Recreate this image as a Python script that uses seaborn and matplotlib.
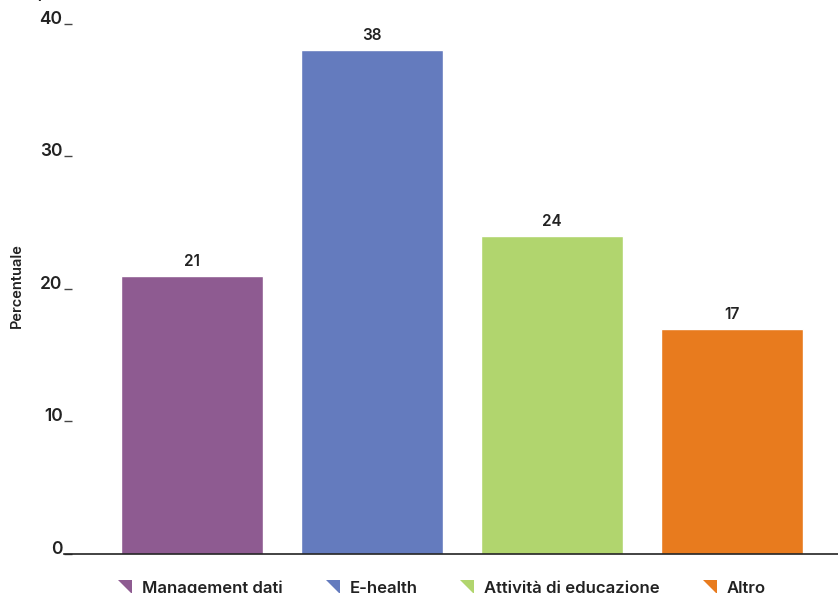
import matplotlib
matplotlib.use("Agg")
import matplotlib.pyplot as plt
from matplotlib.path import Path
from matplotlib.lines import Line2D
import seaborn as sns
import pandas as pd

categories = ["Management dati", "E-health", "Attività di educazione", "Altro"]
values = [21, 38, 24, 17]
colors = ["#8E5B91", "#647BBE", "#B1D56E", "#E87B1E"]
yticks = [0, 10, 20, 30, 40]

sns.set_theme(style="white")
plt.rcParams["font.family"] = ["Inter", "DejaVu Sans"]
plt.rcParams["font.weight"] = "semibold"

df = pd.DataFrame({"categoria": categories, "valore": values})

fig = plt.figure(figsize=(8.38, 5.93), dpi=100)
ax = fig.add_axes([64 / 838, 1 - 554 / 593, 1 - 64 / 838, 554 / 593])

sns.barplot(data=df, x="categoria", y="valore", hue="categoria",
            palette=colors, order=categories, hue_order=categories,
            width=0.79, legend=False, ax=ax, saturation=1)

for cont in ax.containers:
    ax.bar_label(cont, fmt="%d", padding=5, fontsize=11,
                 color="#222222", fontweight="semibold")

ax.set_xlim(-0.712, 3.59)
ax.set_ylim(0, 41.78)
ax.set_yticks(yticks)
ax.set_yticklabels([str(t) for t in yticks])
for lab in ax.get_yticklabels():
    lab.set_verticalalignment("baseline")
    lab.set_fontweight("semibold")
ax.tick_params(axis="y", direction="in", length=6, width=1, color="#444444",
               pad=1, labelsize=12.5, labelcolor="#222222", left=True)
ax.tick_params(axis="x", bottom=False, labelbottom=False)
ax.set_xlabel("")
ax.set_ylabel("")
for side in ["left", "top", "right"]:
    ax.spines[side].set_visible(False)
ax.spines["bottom"].set_color("#222222")
ax.spines["bottom"].set_linewidth(1.2)

fig.text(17 / 838, 1 - 286 / 593, "Percentuale", rotation=90,
         ha="center", va="center", fontsize=10.5, color="#222222",
         fontweight="semibold")
fig.text(15 / 838, 1.003, "(in percentuale)", ha="left", va="baseline",
         fontsize=11, color="#222222")

# triangular legend markers
tri = Path([(-1, 1), (1, 1), (1, -1), (-1, 1)],
           [Path.MOVETO, Path.LINETO, Path.LINETO, Path.CLOSEPOLY])
handles = [Line2D([], [], linestyle="none", marker=tri, markersize=10,
                  markerfacecolor=c, markeredgewidth=0) for c in colors]
leg = fig.legend(handles, categories, loc="center", ncol=4,
                 bbox_to_anchor=(0.5275, 1 - 588 / 593), frameon=False,
                 prop={"size": 12, "weight": "semibold"},
                 handlelength=0.8, handletextpad=0.6,
                 columnspacing=2.6, borderaxespad=0, borderpad=0)
for t in leg.get_texts():
    t.set_color("#222222")

fig.savefig("out.png", dpi=100)
